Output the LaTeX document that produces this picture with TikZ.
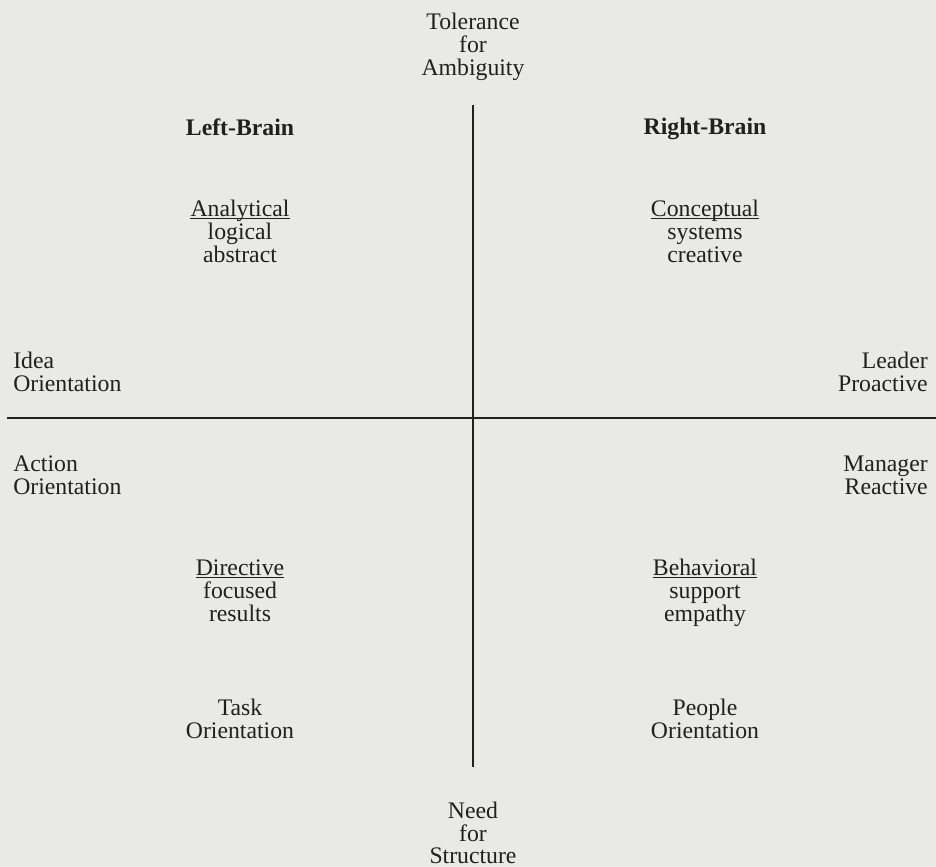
\documentclass[tikz,border=0pt]{standalone}
\usepackage{fontspec}
\setmainfont{Liberation Serif}
\definecolor{paper}{RGB}{233,233,231}
\definecolor{ink}{RGB}{32,32,32}
\begin{document}
\begin{tikzpicture}[x=0.75pt,y=-0.75pt,
  lbl/.style={text=ink,font=\fontsize{17.8}{17.3}\selectfont,inner sep=0pt,anchor=base},
  lblb/.style={lbl,font=\fontsize{17.8}{17.3}\selectfont\bfseries},
  lblL/.style={lbl,anchor=base west},
  lblR/.style={lbl,anchor=base east},
  axis/.style={draw=ink},
  uline/.style={draw=ink,line width=1.2pt}]
\fill[paper] (0,0) rectangle (936,867);
\useasboundingbox (0,0) rectangle (936,867);
\coordinate (top) at (473,105);
\coordinate (bot) at (473,767);
\coordinate (left) at (7,418);
\coordinate (right) at (936,418);
\draw[axis,line width=1.5pt] (top) -- (bot);
\draw[axis,line width=2pt] (left) -- (right);
% top
\node[lbl] (t1) at (473,30) {Tolerance};
\node[lbl] (t2) at (473,53) {for};
\node[lbl] (t3) at (473,76) {Ambiguity};
% brains
\node[lblb] (lb) at (240,136) {Left-Brain};
\node[lblb] (rb) at (705,135) {Right-Brain};
% analytical
\node[lbl] (a1) at (240,216) {Analytical};
\node[lbl] (a2) at (240,239) {logical};
\node[lbl] (a3) at (240,262) {abstract};
% conceptual
\node[lbl] (c1) at (705,216) {Conceptual};
\node[lbl] (c2) at (705,239) {systems};
\node[lbl] (c3) at (705,262) {creative};
% sides
\node[lblL] (i1) at (13,368) {Idea};
\node[lblL] (i2) at (13,391) {Orientation};
\node[lblR] (l1) at (928,368) {Leader};
\node[lblR] (l2) at (928,391) {Proactive};
\node[lblL] (o1) at (13,471) {Action};
\node[lblL] (o2) at (13,494) {Orientation};
\node[lblR] (m1) at (928,471) {Manager};
\node[lblR] (m2) at (928,494) {Reactive};
% directive
\node[lbl] (d1) at (240,575) {Directive};
\node[lbl] (d2) at (240,598) {focused};
\node[lbl] (d3) at (240,621) {results};
% behavioral
\node[lbl] (b1) at (705,575) {Behavioral};
\node[lbl] (b2) at (705,598) {support};
\node[lbl] (b3) at (705,621) {empathy};
% underlines
\foreach \n in {a1,c1,d1,b1}
  \draw[uline] ([yshift=-2pt]\n.base west) -- ([yshift=-2pt]\n.base east);
% orientations
\node[lbl] (k1) at (240,715) {Task};
\node[lbl] (k2) at (240,738) {Orientation};
\node[lbl] (p1) at (705,715) {People};
\node[lbl] (p2) at (705,738) {Orientation};
% bottom
\node[lbl] (n1) at (473,818) {Need};
\node[lbl] (n2) at (473,841) {for};
\node[lbl] (n3) at (473,863) {Structure};
\end{tikzpicture}
\end{document}
